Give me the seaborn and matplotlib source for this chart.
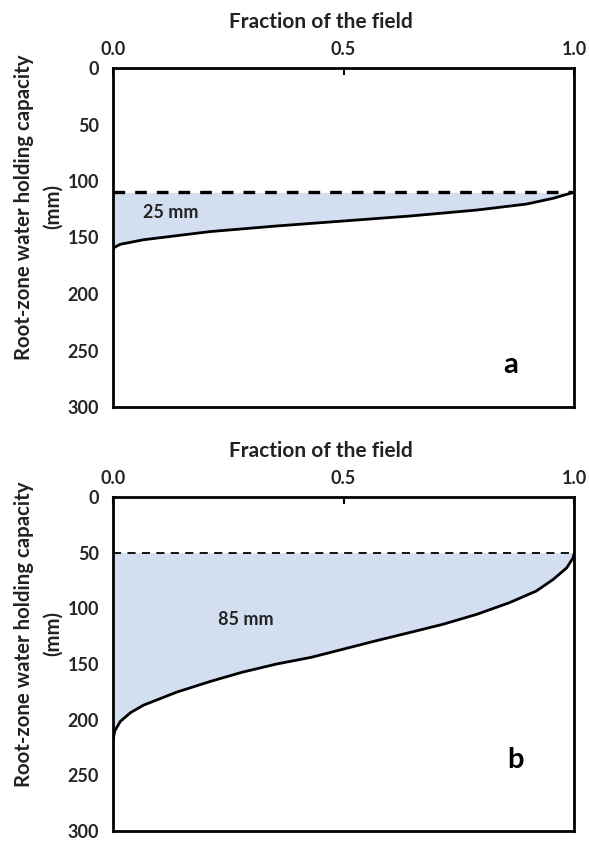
import numpy as np
import pandas as pd
import matplotlib
matplotlib.use("Agg")
import matplotlib.pyplot as plt
import seaborn as sns

# ---- data ----
frac_a = [0.0, 0.004, 0.016, 0.066, 0.21, 0.355, 0.50, 0.644, 0.789, 0.897, 0.955, 0.991, 1.0]
whc_a = [160, 158.5, 156, 152, 144.8, 139.8, 135.4, 131, 125.7, 120.4, 115.3, 111, 110]
level_a = 110
label_a = "25 mm"

frac_b = [0.0, 0.004, 0.016, 0.038, 0.066, 0.138, 0.21, 0.28, 0.355, 0.43, 0.50, 0.57,
          0.644, 0.716, 0.789, 0.86, 0.918, 0.955, 0.984, 0.998, 1.0]
whc_b = [218, 210, 201.5, 193.7, 187, 175.3, 165.8, 157.4, 150, 144, 136.6, 129.2,
         121.7, 114.3, 105.4, 94.9, 84.5, 74, 63.7, 54.7, 51]
level_b = 50
label_b = "85 mm"

x_ticks = [0.0, 0.5, 1.0]
x_ticklabels = ["0.0", "0.5", "1.0"]
y_ticks = [0, 50, 100, 150, 200, 250, 300]
panel_letters = ["a", "b"]

sns.set_style("white")
plt.rcParams['font.family'] = ['Lato', 'DejaVu Sans']
plt.rcParams['font.weight'] = 'bold'

fig = plt.figure(figsize=(5.89, 8.41), dpi=100)
left = 113 / 589
width = (574 - 113) / 589
ax_a = fig.add_axes([left, 1 - 407 / 841, width, 339 / 841])
ax_b = fig.add_axes([left, 1 - 831 / 841, width, 334 / 841])

fill_color = "#d3dff0"

panels = [
    (ax_a, frac_a, whc_a, level_a, label_a, (0.126, 128), (0.863, 263), 2.4, (3.5, 3.0)),
    (ax_b, frac_b, whc_b, level_b, label_b, (0.289, 110), (0.874, 236), 1.3, (4.5, 3.5)),
]

for i, (ax, fr, wh, lev, lab, lab_pos, let_pos, dlw, dashes) in enumerate(panels):
    df = pd.DataFrame({"frac": fr, "whc": wh})
    ax.fill_between(df["frac"], lev, df["whc"], color=fill_color, linewidth=0, zorder=1)
    sns.lineplot(data=df, x="frac", y="whc", ax=ax, color="black", linewidth=2.0,
                 zorder=3, sort=False)
    ax.axhline(lev, color="black", linewidth=dlw, linestyle=(0, dashes), zorder=2)

    ax.set_xlim(0, 1)
    ax.set_ylim(300, 0)
    ax.xaxis.tick_top()
    ax.set_xticks(x_ticks)
    ax.set_xticklabels(x_ticklabels)
    ax.set_yticks(y_ticks)
    ax.tick_params(axis="both", direction="in", length=5, width=1.5, colors="black",
                   labelcolor="#262626", labelsize=13, pad=10)
    ax.tick_params(axis="x", pad=7)
    for lbl in ax.get_xticklabels() + ax.get_yticklabels():
        lbl.set_fontweight("bold")
    for sp in ax.spines.values():
        sp.set_visible(True)
        sp.set_linewidth(2.0)
        sp.set_color("black")
    ax.set_xlabel("")
    ax.set_ylabel("")

    h_px = ax.get_position().height * 841
    ax.text(0.45, 1 + 46 / h_px, "Fraction of the field", transform=ax.transAxes,
            ha="center", va="center", fontsize=15, fontweight="bold", color="#222222")
    ax.text(-0.192, 0.59, "Root-zone water holding capacity", transform=ax.transAxes,
            ha="center", va="center", rotation=90, fontsize=14.7, fontweight="bold",
            color="#222222")
    ax.text(-0.131, 0.59, "(mm)", transform=ax.transAxes,
            ha="center", va="center", rotation=90, fontsize=14.7, fontweight="bold",
            color="#222222")

    ax.text(lab_pos[0], lab_pos[1], lab, ha="center", va="center",
            fontsize=13, fontweight="bold", color="#222222", zorder=4)
    ax.text(let_pos[0], let_pos[1], panel_letters[i], ha="center", va="center",
            fontsize=21, fontweight="bold", color="black", zorder=4)

fig.savefig("out.png", dpi=100)
